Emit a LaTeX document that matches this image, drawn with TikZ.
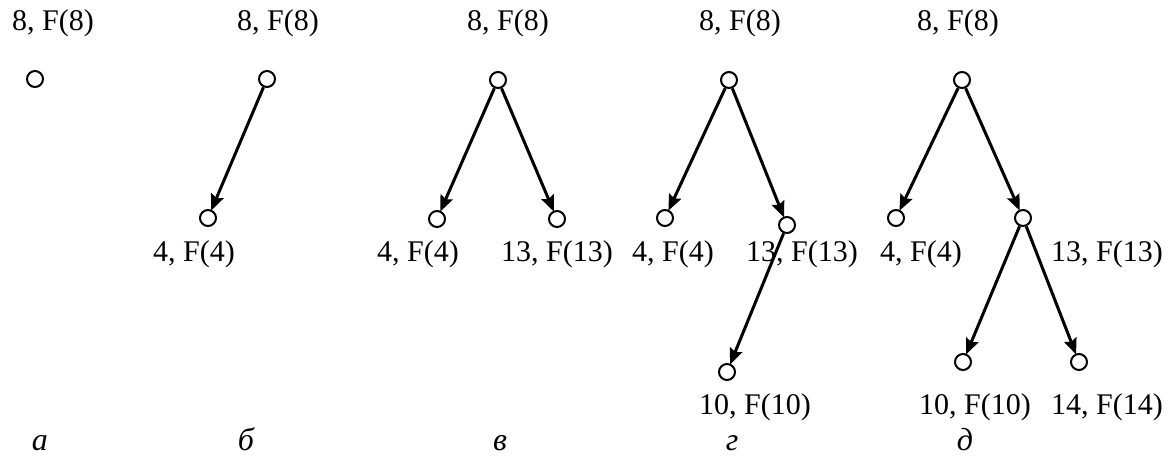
\documentclass[tikz,border=0pt]{standalone}
\usepackage{fontspec}
\setmainfont{Liberation Serif}
\usetikzlibrary{arrows.meta}
\tikzset{vtx/.style={draw, circle, line width=1pt, inner sep=0pt, minimum size=8pt},
  edg/.style={line width=1.5pt, -{Stealth[length=8pt, width=6.5pt, inset=1.2pt]}, shorten >=-0.5pt},
  lbl/.style={anchor=base, inner sep=0pt},
  sublbl/.style={anchor=base, inner sep=0pt, font=\fontsize{16}{19}\selectfont\itshape}}

\begin{document}
\begin{tikzpicture}[x=0.5pt, y=-0.5pt, font=\fontsize{15}{18}\selectfont]
  \useasboundingbox (0,0) rectangle (1174,460);
  % (a) root only
  \node[lbl] (la0) at (53,31) {8, F(8)};
  \node[vtx] (a0) at (35,79) {};
  \node[sublbl] (ca) at (40,450) {а};
  % (b) one child
  \node[lbl] (lb0) at (278,31) {8, F(8)};
  \node[vtx] (b0) at (267,79) {};
  \node[vtx] (b1) at (208,218) {};
  \node[lbl] (lb1) at (194,262) {4, F(4)};
  \draw[edg] (b0) -- (b1);
  \node[sublbl] (cb) at (246,450) {б};
  % (v) two children
  \node[lbl] (lv0) at (508,31) {8, F(8)};
  \node[vtx] (v0) at (498,80) {};
  \node[vtx] (v1) at (437,219) {};
  \node[vtx] (v2) at (557,219) {};
  \node[lbl] (lv1) at (418,262) {4, F(4)};
  \node[lbl] (lv2) at (557,262) {13, F(13)};
  \draw[edg] (v0) -- (v1);
  \draw[edg] (v0) -- (v2);
  \node[sublbl] (cv) at (500,450) {в};
  % (g) third level, left
  \node[lbl] (lg0) at (740,31) {8, F(8)};
  \node[vtx] (g0) at (729,80) {};
  \node[vtx] (g1) at (665,218) {};
  \node[vtx] (g2) at (787,225) {};
  \node[vtx] (g3) at (727,372) {};
  \node[lbl] (lg1) at (673,262) {4, F(4)};
  \node[lbl] (lg2) at (802,262) {13, F(13)};
  \node[lbl] (lg3) at (755,414) {10, F(10)};
  \draw[edg] (g0) -- (g1);
  \draw[edg] (g0) -- (g2);
  \draw[edg] (g2) -- (g3);
  \node[sublbl] (cg) at (732,450) {г};
  % (d) third level, both
  \node[lbl] (ld0) at (958,31) {8, F(8)};
  \node[vtx] (d0) at (962,80) {};
  \node[vtx] (d1) at (896,218) {};
  \node[vtx] (d2) at (1023,218) {};
  \node[vtx] (d3) at (963,362) {};
  \node[vtx] (d4) at (1079,362) {};
  \node[lbl] (ld1) at (921,262) {4, F(4)};
  \node[lbl] (ld2) at (1107,262) {13, F(13)};
  \node[lbl] (ld3) at (975,414) {10, F(10)};
  \node[lbl] (ld4) at (1107,414) {14, F(14)};
  \draw[edg] (d0) -- (d1);
  \draw[edg] (d0) -- (d2);
  \draw[edg] (d2) -- (d3);
  \draw[edg] (d2) -- (d4);
  \node[sublbl] (cd) at (965,450) {д};
\end{tikzpicture}
\end{document}
